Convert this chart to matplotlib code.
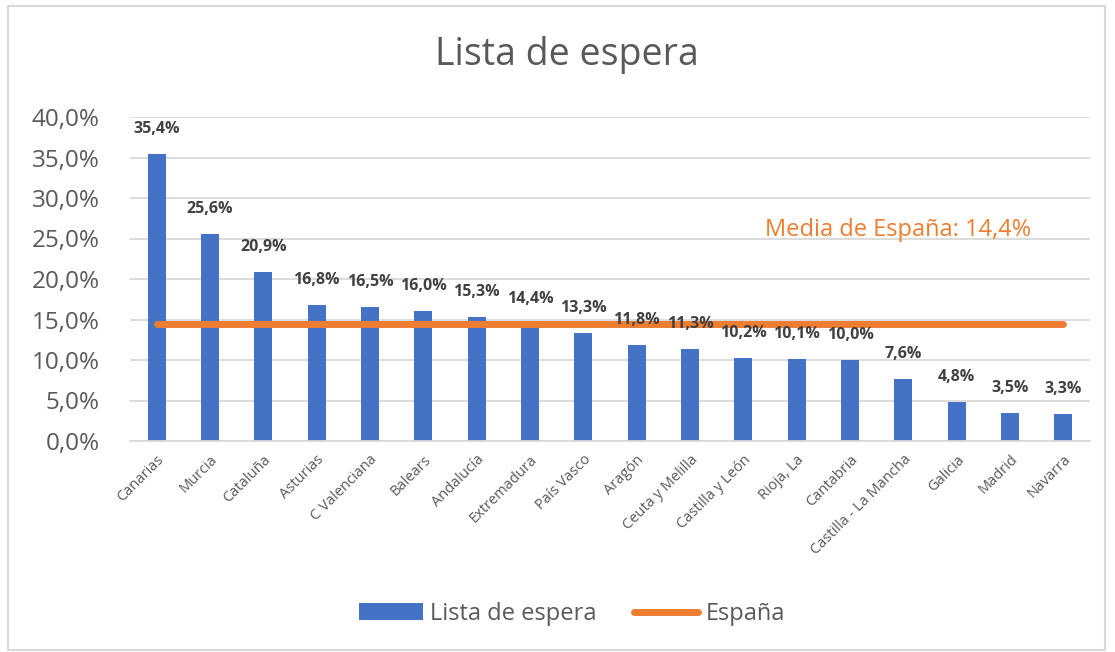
import matplotlib.pyplot as plt
from matplotlib.patches import Rectangle

regiones = ['Canarias', 'Murcia', 'Cataluña', 'Asturias', 'C Valenciana', 'Balears',
            'Andalucía', 'Extremadura', 'País Vasco', 'Aragón', 'Ceuta y Melilla',
            'Castilla y León', 'Rioja, La', 'Cantabria', 'Castilla - La Mancha',
            'Galicia', 'Madrid', 'Navarra']
lista_espera = [35.4, 25.6, 20.9, 16.8, 16.5, 16.0, 15.3, 14.4, 13.3, 11.8, 11.3,
                10.2, 10.1, 10.0, 7.6, 4.8, 3.5, 3.3]
espana = 14.4
yticks = [0, 5, 10, 15, 20, 25, 30, 35, 40]

plt.rcParams['font.family'] = ['Open Sans', 'DejaVu Sans']

blue = '#4472C4'
orange = '#ED7D31'
grey = '#595959'

fig = plt.figure(figsize=(11.15, 6.52), dpi=100)
ax = fig.add_axes([130 / 1115, 1 - 441 / 652, 960 / 1115, 324 / 652])

x = list(range(len(regiones)))
bars = ax.bar(x, lista_espera, width=0.34, color=blue, label='Lista de espera', zorder=2)
line, = ax.plot([x[0], x[-1]], [espana, espana], color=orange, lw=5,
                solid_capstyle='round', label='España', zorder=3)

for xi, v in zip(x, lista_espera):
    ax.annotate(f'{v:.1f}%'.replace('.', ','), (xi, v), xytext=(0, 18),
                textcoords='offset points', ha='center', va='center',
                fontsize=11.5, fontweight='bold', color='#404040', zorder=4)

ax.text(13.9, 26.0, f'Media de España: {espana:.1f}%'.replace('.', ','),
        color=orange, fontsize=17, ha='center', va='center')

ax.set_xlim(-0.5, len(regiones) - 0.5)
ax.set_ylim(0, 40)
ax.set_yticks(yticks)
ax.set_yticklabels([f'{t:.1f}%'.replace('.', ',') for t in yticks], fontsize=17.5, color=grey)
ax.set_xticks(x)
ax.set_xticklabels(regiones, rotation=45, ha='right', rotation_mode='anchor',
                   fontsize=10.5, color=grey)
ax.tick_params(axis='y', length=0, pad=22)
ax.tick_params(axis='x', length=0, pad=8)
ax.yaxis.grid(True, color='#D9D9D9', lw=1.3, zorder=0)
for s in ax.spines.values():
    s.set_visible(False)
ax.spines['bottom'].set_visible(True)
ax.spines['bottom'].set_color('#D9D9D9')
ax.spines['bottom'].set_linewidth(1.3)

fig.text(567 / 1115, 1 - 55 / 652, 'Lista de espera', ha='center', va='center',
         fontsize=27, color=grey)

fig.legend([bars, line], ['Lista de espera', 'España'], loc='center',
           bbox_to_anchor=(572 / 1115, 1 - 614 / 652), ncol=2, frameon=False,
           fontsize=17, handlelength=2.7, columnspacing=1.6, handletextpad=0.3,
           labelcolor=grey)

fig.patches.append(Rectangle((8 / 1115, 2 / 652), 1097 / 1115, 644 / 652,
                             transform=fig.transFigure, fill=False,
                             edgecolor='#D9D9D9', lw=1.5))

fig.savefig('out.png', dpi=100)
